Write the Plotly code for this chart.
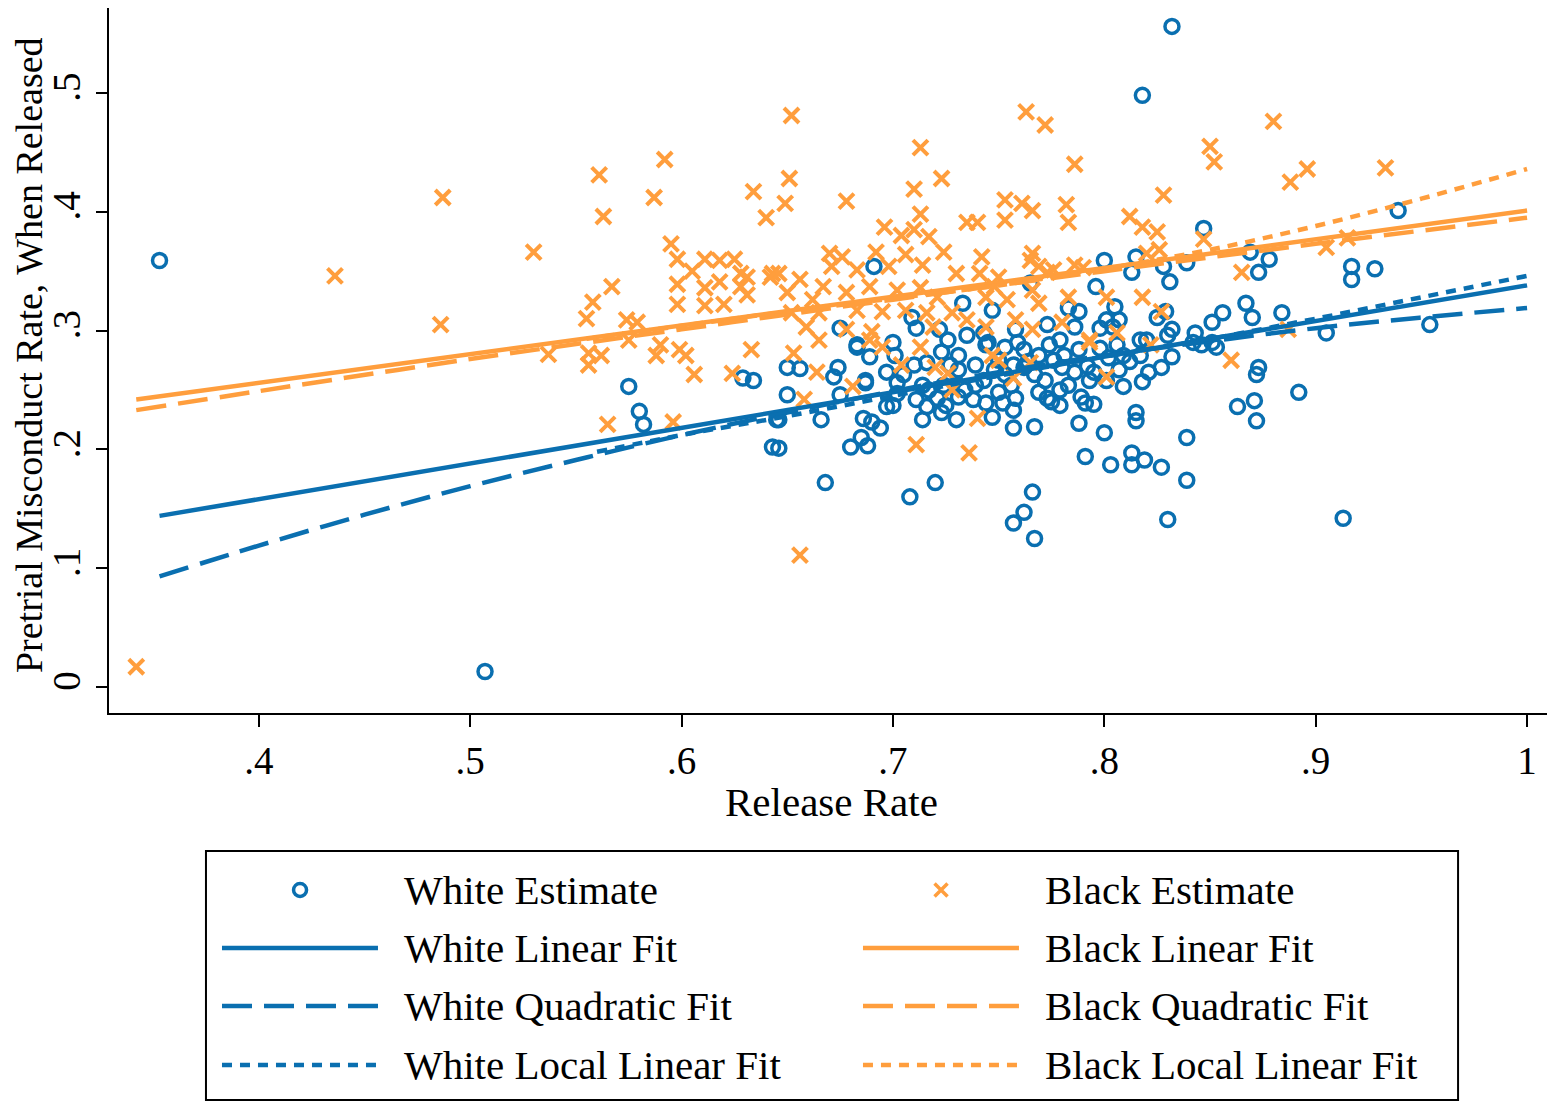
import plotly.graph_objects as go

# ---------------- data ----------------
white_x = [0.353, 0.507, 0.832, 0.818,
           0.869, 0.878, 0.873, 0.917, 0.917, 0.928, 0.939, 0.856, 0.867, 0.870, 0.884, 0.905, 0.954,
           0.873, 0.872, 0.892, 0.871, 0.863, 0.872, 0.913,
           0.757, 0.767, 0.788, 0.800, 0.791, 0.803, 0.813, 0.813, 0.819, 0.827, 0.839, 0.839, 0.815, 0.815,
           0.766, 0.762, 0.757, 0.767, 0.830, 0.757, 0.758, 0.752, 0.773, 0.775, 0.779, 0.789, 0.791, 0.795,
           0.818, 0.809, 0.827, 0.832, 0.846, 0.853,
           0.650, 0.656, 0.672, 0.674, 0.650, 0.646, 0.646, 0.666, 0.675, 0.687, 0.687, 0.686, 0.690, 0.694,
           0.685, 0.680, 0.688, 0.697, 0.700, 0.668, 0.708, 0.720, 0.683, 0.689, 0.697, 0.702, 0.701, 0.711,
           0.714, 0.714, 0.716, 0.721, 0.725, 0.730, 0.723, 0.716, 0.723, 0.731, 0.739, 0.744, 0.738, 0.747,
           0.744, 0.731,
           0.575, 0.580, 0.582, 0.629, 0.634, 0.643, 0.645,
           0.691, 0.733, 0.675, 0.683, 0.700, 0.709, 0.711, 0.722, 0.726, 0.735, 0.747, 0.743, 0.745,
           0.847, 0.800, 0.815, 0.813, 0.828, 0.839, 0.831, 0.796, 0.805, 0.788, 0.783, 0.825, 0.829, 0.832,
           0.830, 0.851, 0.843, 0.801, 0.804, 0.807, 0.798, 0.765, 0.773, 0.758, 0.779, 0.786, 0.759, 0.817,
           0.820, 0.842, 0.851,
           0.753, 0.762, 0.769, 0.776, 0.780, 0.786, 0.792, 0.795, 0.802, 0.807, 0.812, 0.817, 0.821, 0.762,
           0.767, 0.772, 0.753, 0.756, 0.748, 0.750, 0.774, 0.781, 0.788, 0.798, 0.806, 0.809, 0.801, 0.779,
           0.769, 0.757, 0.743, 0.739, 0.731, 0.727, 0.734, 0.724, 0.750, 0.764, 0.783, 0.793,
           0.705, 0.710, 0.717, 0.702]
white_y = [0.359, 0.013, 0.556, 0.498,
           0.366, 0.360, 0.349, 0.354, 0.343, 0.352, 0.401, 0.315, 0.323, 0.311, 0.315, 0.298, 0.305,
           0.269, 0.263, 0.248, 0.241, 0.236, 0.224, 0.142,
           0.218, 0.219, 0.222, 0.214, 0.194, 0.187, 0.197, 0.187, 0.191, 0.185, 0.210, 0.174, 0.231, 0.224,
           0.164, 0.147, 0.138, 0.125, 0.141, 0.233, 0.243, 0.239, 0.243, 0.240, 0.237, 0.244, 0.239, 0.238,
           0.257, 0.253, 0.269, 0.278, 0.288, 0.286,
           0.269, 0.268, 0.261, 0.269, 0.246, 0.225, 0.201, 0.225, 0.246, 0.256, 0.258, 0.226, 0.223, 0.218,
           0.210, 0.202, 0.203, 0.236, 0.237, 0.172, 0.160, 0.172, 0.286, 0.278, 0.265, 0.256, 0.279, 0.242,
           0.254, 0.225, 0.236, 0.243, 0.237, 0.225, 0.231, 0.273, 0.282, 0.279, 0.271, 0.288, 0.242, 0.227,
           0.239, 0.244,
           0.253, 0.232, 0.221, 0.260, 0.258, 0.202, 0.225,
           0.354, 0.323, 0.302, 0.288, 0.290, 0.311, 0.302, 0.301, 0.292, 0.296, 0.317, 0.298, 0.290,
           0.386, 0.359, 0.362, 0.349, 0.354, 0.357, 0.341, 0.337, 0.320, 0.316, 0.319, 0.311, 0.316, 0.301,
           0.296, 0.307, 0.298, 0.309, 0.303, 0.309, 0.302, 0.340, 0.305, 0.301, 0.292, 0.303, 0.290, 0.292,
           0.292, 0.290, 0.290,
           0.286, 0.284, 0.279, 0.275, 0.269, 0.265, 0.270, 0.265, 0.277, 0.267, 0.274, 0.279, 0.265, 0.269,
           0.263, 0.258, 0.263, 0.254, 0.267, 0.275, 0.288, 0.279, 0.284, 0.285, 0.288, 0.279, 0.258, 0.250,
           0.248, 0.271, 0.258, 0.254, 0.267, 0.271, 0.250, 0.254, 0.248, 0.274, 0.254, 0.258,
           0.263, 0.271, 0.250, 0.247]

black_x = [0.342, 0.436, 0.487, 0.486, 0.530, 0.537,
           0.652, 0.763, 0.772, 0.880,
           0.561, 0.563, 0.587, 0.592, 0.595, 0.598, 0.611, 0.618, 0.625, 0.605, 0.618, 0.628, 0.631, 0.643,
           0.598, 0.611, 0.628, 0.631, 0.598, 0.611, 0.620, 0.567, 0.558, 0.555, 0.574, 0.579, 0.634, 0.640,
           0.642,
           0.556, 0.556, 0.562, 0.575, 0.588, 0.590, 0.599, 0.602, 0.606, 0.624, 0.633, 0.565, 0.596,
           0.713, 0.723, 0.710, 0.651, 0.649, 0.678, 0.713, 0.735, 0.740, 0.696, 0.704, 0.710, 0.717, 0.670,
           0.676, 0.692, 0.706, 0.724, 0.742, 0.656, 0.667, 0.671, 0.683, 0.698, 0.714, 0.730, 0.741, 0.748,
           0.662, 0.678, 0.689, 0.702, 0.713, 0.721, 0.650, 0.652, 0.665, 0.683, 0.695, 0.706, 0.716, 0.728,
           0.744, 0.646, 0.659, 0.678, 0.690, 0.719, 0.735, 0.744, 0.665, 0.689,
           0.850, 0.852, 0.786, 0.828, 0.753, 0.761, 0.766, 0.782, 0.783, 0.753, 0.812, 0.818, 0.825, 0.847,
           0.826, 0.820, 0.766, 0.765, 0.769, 0.776, 0.786, 0.790, 0.773, 0.750, 0.766, 0.769, 0.783, 0.801,
           0.818, 0.754, 0.758, 0.780, 0.766, 0.793, 0.806, 0.827,
           0.888, 0.896, 0.933, 0.865, 0.905, 0.915, 0.887,
           0.653, 0.664, 0.681, 0.658, 0.704, 0.720, 0.726, 0.728, 0.740, 0.711, 0.736, 0.695, 0.713, 0.747,
           0.656,
           0.793, 0.822, 0.750, 0.765, 0.757, 0.801, 0.860]
black_y = [0.017, 0.346, 0.412, 0.305, 0.366, 0.280,
           0.481, 0.484, 0.473, 0.476,
           0.431, 0.396, 0.412, 0.444, 0.373, 0.360, 0.360, 0.359, 0.360, 0.350, 0.341, 0.348, 0.345, 0.348,
           0.339, 0.336, 0.337, 0.330, 0.322, 0.321, 0.322, 0.337, 0.324, 0.310, 0.309, 0.307, 0.417, 0.395,
           0.345,
           0.281, 0.271, 0.279, 0.292, 0.279, 0.288, 0.284, 0.279, 0.263, 0.264, 0.284, 0.221, 0.223,
           0.454, 0.428, 0.419, 0.428, 0.407, 0.409, 0.398, 0.391, 0.391, 0.387, 0.380, 0.385, 0.379, 0.365,
           0.362, 0.366, 0.364, 0.366, 0.362, 0.343, 0.337, 0.354, 0.351, 0.354, 0.355, 0.348, 0.348, 0.337,
           0.326, 0.332, 0.337, 0.334, 0.336, 0.328, 0.332, 0.315, 0.315, 0.317, 0.316, 0.317, 0.315, 0.315,
           0.328, 0.348, 0.303, 0.301, 0.299, 0.303, 0.309, 0.303, 0.292, 0.292,
           0.455, 0.442, 0.440, 0.414, 0.410, 0.407, 0.401, 0.406, 0.391, 0.393, 0.396, 0.387, 0.383, 0.377,
           0.368, 0.365, 0.365, 0.359, 0.354, 0.351, 0.355, 0.353, 0.349, 0.345, 0.334, 0.323, 0.328, 0.328,
           0.328, 0.326, 0.309, 0.307, 0.301, 0.292, 0.298, 0.316,
           0.425, 0.436, 0.437, 0.349, 0.370, 0.378, 0.301,
           0.281, 0.265, 0.253, 0.242, 0.271, 0.269, 0.264, 0.250, 0.226, 0.204, 0.197, 0.286, 0.286, 0.279,
           0.111,
           0.290, 0.288, 0.275, 0.273, 0.260, 0.261, 0.275]

# fitted lines
white_lin_x = [0.353, 1.0]
white_lin_y = [0.144, 0.338]
white_quad_x = [0.353, 0.40, 0.45, 0.50, 0.55, 0.60, 0.65, 0.70, 0.75, 0.80, 0.85, 0.90, 0.95, 1.0]
white_quad_y = [0.093, 0.119, 0.145, 0.169, 0.191, 0.212, 0.231, 0.249, 0.265, 0.279, 0.291, 0.302, 0.311, 0.319]
white_loc_x = [0.56, 0.60, 0.65, 0.70, 0.75, 0.80, 0.85, 0.90, 0.95, 1.0]
white_loc_y = [0.198, 0.212, 0.228, 0.245, 0.262, 0.278, 0.293, 0.310, 0.328, 0.346]

black_lin_x = [0.342, 1.0]
black_lin_y = [0.242, 0.401]
black_quad_x = [0.342, 0.40, 0.50, 0.60, 0.70, 0.80, 0.90, 1.0]
black_quad_y = [0.233, 0.249, 0.276, 0.301, 0.326, 0.350, 0.373, 0.395]
black_loc_x = [0.555, 0.60, 0.65, 0.70, 0.75, 0.80, 0.85, 0.90, 0.95, 1.0]
black_loc_y = [0.293, 0.304, 0.316, 0.327, 0.338, 0.352, 0.368, 0.388, 0.411, 0.436]

x_tickvals = [0.4, 0.5, 0.6, 0.7, 0.8, 0.9, 1.0]
x_ticktext = [".4", ".5", ".6", ".7", ".8", ".9", "1"]
y_tickvals = [0, 0.1, 0.2, 0.3, 0.4, 0.5]
y_ticktext = ["0", ".1", ".2", ".3", ".4", ".5"]

legend_labels = ["White Estimate", "Black Estimate",
                 "White Linear Fit", "Black Linear Fit",
                 "White Quadratic Fit", "Black Quadratic Fit",
                 "White Local Linear Fit", "Black Local Linear Fit"]

# ---------------- styling ----------------
BLUE = "#0A6FB0"
ORANGE = "#FF9E3D"
FONT = "Liberation Serif"
FS = 41
FS_TICK = 39
DASH = "30px,12px"
DOT = "10px,8px"
LW = 4.5

circle_marker = dict(symbol="circle-open", size=14, color=BLUE, line=dict(width=3.5, color=BLUE))
x_marker = dict(symbol="x-thin-open", size=15, color=ORANGE, line=dict(width=4, color=ORANGE))

fig = go.Figure()

fig.add_trace(go.Scatter(x=white_x, y=white_y, mode="markers", marker=circle_marker, showlegend=False))
fig.add_trace(go.Scatter(x=black_x, y=black_y, mode="markers", marker=x_marker, showlegend=False))

lines = [
    (white_lin_x, white_lin_y, BLUE, "solid"),
    (white_quad_x, white_quad_y, BLUE, DASH),
    (white_loc_x, white_loc_y, BLUE, DOT),
    (black_lin_x, black_lin_y, ORANGE, "solid"),
    (black_quad_x, black_quad_y, ORANGE, DASH),
    (black_loc_x, black_loc_y, ORANGE, DOT),
]
for lx, ly, c, d in lines:
    fig.add_trace(go.Scatter(x=lx, y=ly, mode="lines", line=dict(color=c, width=LW, dash=d),
                             line_shape="spline", showlegend=False, hoverinfo="skip"))

# ---------------- manual legend (overlay axes in the bottom band) ----------------
col_sym = [0.1324, 0.5766]
col_line = [(0.0783, 0.1864), (0.5225, 0.6306)]
col_text = [0.2030, 0.6473]
row_y = [0.1938, 0.1408, 0.0878, 0.0338]
styles = ["solid", DASH, DOT]

fig.add_trace(go.Scatter(x=[col_sym[0]], y=[row_y[0]], xaxis="x2", yaxis="y2", mode="markers",
                         marker=dict(symbol="circle-open", size=13, color=BLUE, line=dict(width=3.5, color=BLUE)),
                         showlegend=False, hoverinfo="skip"))
fig.add_trace(go.Scatter(x=[col_sym[1]], y=[row_y[0]], xaxis="x2", yaxis="y2", mode="markers",
                         marker=dict(symbol="x-thin-open", size=13, color=ORANGE, line=dict(width=3.5, color=ORANGE)),
                         showlegend=False, hoverinfo="skip"))
for ci, c in enumerate([BLUE, ORANGE]):
    for ri, st in enumerate(styles):
        x0, x1 = col_line[ci]
        yy = row_y[ri + 1]
        fig.add_trace(go.Scatter(x=[x0, x1], y=[yy, yy], xaxis="x2", yaxis="y2", mode="lines",
                                 line=dict(color=c, width=LW, dash=st), showlegend=False, hoverinfo="skip"))

for i, lab in enumerate(legend_labels):
    ci = i % 2
    ri = i // 2
    fig.add_annotation(x=col_text[ci], y=row_y[ri], xref="paper", yref="paper", text=lab,
                       showarrow=False, xanchor="left", yanchor="middle",
                       font=dict(family=FONT, size=FS, color="black"))

fig.add_shape(type="rect", xref="paper", yref="paper", x0=0.0672, x1=0.9349, y0=0.0018, y1=0.2294,
              line=dict(color="black", width=2), fillcolor="rgba(0,0,0,0)")

# axis titles
fig.add_annotation(x=0.501, y=0.2742, xref="paper", yref="paper", text="Release Rate", showarrow=False,
                   xanchor="center", yanchor="middle", font=dict(family=FONT, size=FS, color="black"))
fig.add_annotation(x=-0.0554, y=0.6828, xref="paper", yref="paper", text="Pretrial Misconduct Rate, When Released",
                   showarrow=False, textangle=-90, xanchor="center", yanchor="middle",
                   font=dict(family=FONT, size=38, color="black"))

fig.update_layout(
    width=1547, height=1094,
    margin=dict(l=101, r=3, t=0, b=0),
    paper_bgcolor="white", plot_bgcolor="rgba(0,0,0,0)",
    font=dict(family=FONT, size=FS, color="black"),
    showlegend=False,
    xaxis=dict(range=[0.3291, 1.0118], tickvals=x_tickvals, ticktext=x_ticktext,
               showgrid=False, zeroline=False, showline=True, linecolor="black", linewidth=2,
               ticks="outside", ticklen=12, tickwidth=2, tickcolor="black",
               tickfont=dict(family=FONT, size=FS_TICK, color="black"), anchor="y", automargin=False),
    yaxis=dict(domain=[0.3556, 1.0], range=[-0.0219, 0.5715], tickvals=y_tickvals, ticktext=y_ticktext,
               showgrid=False, zeroline=False, showline=True, linecolor="black", linewidth=2,
               ticks="outside", ticklen=11, tickwidth=2, tickcolor="black", tickangle=-90,
               tickfont=dict(family=FONT, size=FS_TICK, color="black"), anchor="x", automargin=False),
    xaxis2=dict(domain=[0, 1], range=[0, 1], visible=False, anchor="y2", fixedrange=True),
    yaxis2=dict(domain=[0, 0.3], range=[0, 0.3], visible=False, anchor="x2", fixedrange=True),
)

fig.write_html("out.html")
